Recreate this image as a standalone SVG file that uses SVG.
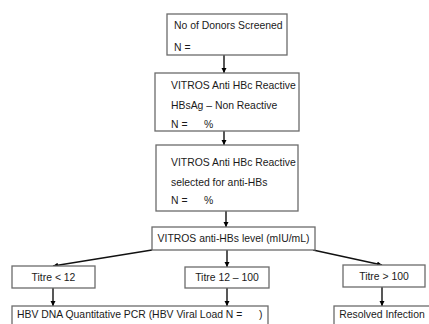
<svg xmlns="http://www.w3.org/2000/svg" width="429" height="324" viewBox="0 0 429 324">
<defs>
<marker id="ah" markerWidth="6" markerHeight="6" refX="5" refY="3" orient="auto" markerUnits="userSpaceOnUse">
<path d="M0,0.5 L5,3 L0,5.5 Z" fill="#000"/>
</marker>
<style>
.box{fill:#fff;stroke:#6b6b6b;stroke-width:1.3}
.t{font-family:"Liberation Sans",Arial,sans-serif;font-size:10.4px;fill:#1a1a1a}
.c{text-anchor:middle}
.ln{stroke:#111;stroke-width:1.4;fill:none;marker-end:url(#ah)}
</style>
</defs>
<rect width="429" height="324" fill="#fff"/>
<g id="connectors">
<line class="ln" x1="224" y1="55" x2="224" y2="73"/>
<line class="ln" x1="224" y1="131" x2="224" y2="145"/>
<line class="ln" x1="226" y1="211" x2="226" y2="227"/>
<line class="ln" x1="152" y1="250" x2="53" y2="266"/>
<line class="ln" x1="227" y1="250" x2="227" y2="267"/>
<line class="ln" x1="313" y1="250" x2="382" y2="265"/>
<line class="ln" x1="53" y1="288" x2="53" y2="306"/>
<line class="ln" x1="227" y1="288" x2="227" y2="306"/>
<line class="ln" x1="382" y1="287" x2="382" y2="306"/>
</g>
<g id="donors">
<rect class="box" x="167" y="14" width="120" height="41"/>
<text class="t" x="174" y="29">No of Donors Screened</text>
<text class="t" x="174" y="51">N =</text>
</g>
<g id="hbc-reactive">
<rect class="box" x="155" y="73" width="144" height="58"/>
<text class="t" x="171" y="89">VITROS Anti HBc Reactive</text>
<text class="t" x="171" y="109">HBsAg – Non Reactive</text>
<text class="t" x="171" y="128">N =<tspan x="204">%</tspan></text>
</g>
<g id="selected">
<rect class="box" x="156" y="145" width="142" height="66"/>
<text class="t" x="171" y="166">VITROS Anti HBc Reactive</text>
<text class="t" x="171" y="186">selected for anti-HBs</text>
<text class="t" x="171" y="204">N =<tspan x="204">%</tspan></text>
</g>
<g id="antihbs-level">
<rect class="box" x="152" y="227" width="163" height="23"/>
<text class="t c" x="233.5" y="242">VITROS anti-HBs level (mIU/mL)</text>
</g>
<g id="titre-lt12">
<rect class="box" x="12" y="266" width="83" height="22"/>
<text class="t c" x="53.5" y="281">Titre &lt; 12</text>
</g>
<g id="titre-12-100">
<rect class="box" x="185" y="267" width="84" height="21"/>
<text class="t c" x="227" y="281">Titre 12 – 100</text>
</g>
<g id="titre-gt100">
<rect class="box" x="343" y="265" width="82" height="22"/>
<text class="t c" x="384" y="280">Titre &gt; 100</text>
</g>
<g id="pcr">
<rect class="box" x="12" y="306" width="256" height="24"/>
<text class="t" x="17" y="318">HBV DNA Quantitative PCR (HBV Viral Load N =<tspan x="259">)</tspan></text>
</g>
<g id="resolved">
<rect class="box" x="334" y="306" width="100" height="24"/>
<text class="t c" x="382" y="318">Resolved Infection</text>
</g>
</svg>
